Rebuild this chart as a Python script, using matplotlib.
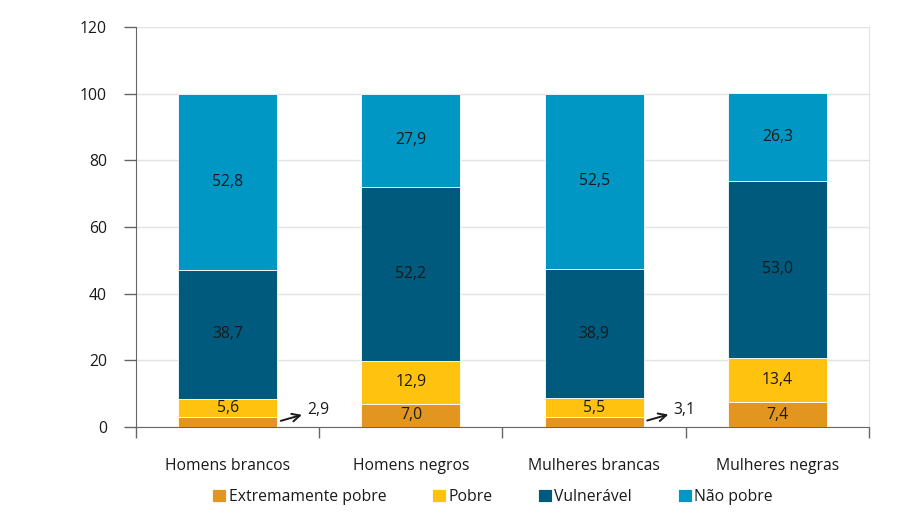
import matplotlib
matplotlib.use("Agg")
import matplotlib.pyplot as plt
import numpy as np

plt.rcParams["font.family"] = ["Open Sans", "DejaVu Sans"]

grupos = ["Homens brancos", "Homens negros", "Mulheres brancas", "Mulheres negras"]
series = ["Extremamente pobre", "Pobre", "Vulnerável", "Não pobre"]
extremamente_pobre = [2.9, 7.0, 3.1, 7.4]
pobre = [5.6, 12.9, 5.5, 13.4]
vulneravel = [38.7, 52.2, 38.9, 53.0]
nao_pobre = [52.8, 27.9, 52.5, 26.3]
cores = ["#E2961F", "#FFC20E", "#005A7E", "#0097C4"]

valores = [extremamente_pobre, pobre, vulneravel, nao_pobre]
fs = 11.3

fig = plt.figure(figsize=(9.07, 5.13), dpi=100)
ax = fig.add_axes([0.15, 0.1676, 0.808, 0.7794])

x = np.arange(len(grupos))
largura = 0.54
base = np.zeros(len(grupos))
for nome, vals, cor in zip(series, valores, cores):
    vals = np.array(vals)
    ax.bar(x, vals, largura, bottom=base, color=cor, label=nome,
           edgecolor="white", linewidth=0.6, zorder=3)
    for xi, b, v in zip(x, base, vals):
        if v >= 5:
            ax.text(xi, b + v / 2, f"{v:.1f}".replace(".", ","),
                    ha="center", va="center", fontsize=fs, color="#1a1a1a", zorder=4)
        else:
            # segmento pequeno: valor fora da barra com seta
            ax.annotate(f"{v:.1f}".replace(".", ","),
                        xy=(xi + largura / 2 + 0.02, b + v / 2 + 0.4),
                        xytext=(xi + largura / 2 + 0.165, b + v / 2 + 3.6),
                        ha="left", va="center", fontsize=fs, color="#1a1a1a",
                        arrowprops=dict(arrowstyle="<-", color="#1a1a1a", lw=1.4,
                                        shrinkA=2, shrinkB=0, mutation_scale=14),
                        zorder=4)
    base += vals

ax.set_xlim(-0.5, len(grupos) - 0.5)
ax.set_ylim(0, 120)
ax.set_yticks(range(0, 121, 20))
ax.yaxis.grid(True, color="#e3e3e3", linewidth=1, zorder=0)

ax.set_xticks(x)
ax.set_xticklabels(grupos, fontsize=fs, color="#1a1a1a")
ax.set_xticks(np.arange(-0.5, len(grupos)), minor=True)
ax.tick_params(axis="x", which="major", length=0, pad=22)
ax.tick_params(axis="x", which="minor", length=8, width=1, color="#666666", direction="out")
ax.tick_params(axis="y", length=9, width=1, color="#666666", labelsize=fs,
               labelcolor="#1a1a1a", pad=12)

ax.spines["top"].set_visible(False)
ax.spines["right"].set_color("#e3e3e3")
ax.spines["left"].set_color("#666666")
ax.spines["bottom"].set_color("#666666")

fig.legend(loc="center", bbox_to_anchor=(0.543, 0.031), ncol=4, frameon=False,
           fontsize=fs, handlelength=0.9, handleheight=0.9, handletextpad=0.15,
           columnspacing=2.9, labelcolor="#1a1a1a")

fig.savefig("out.png", dpi=100)
